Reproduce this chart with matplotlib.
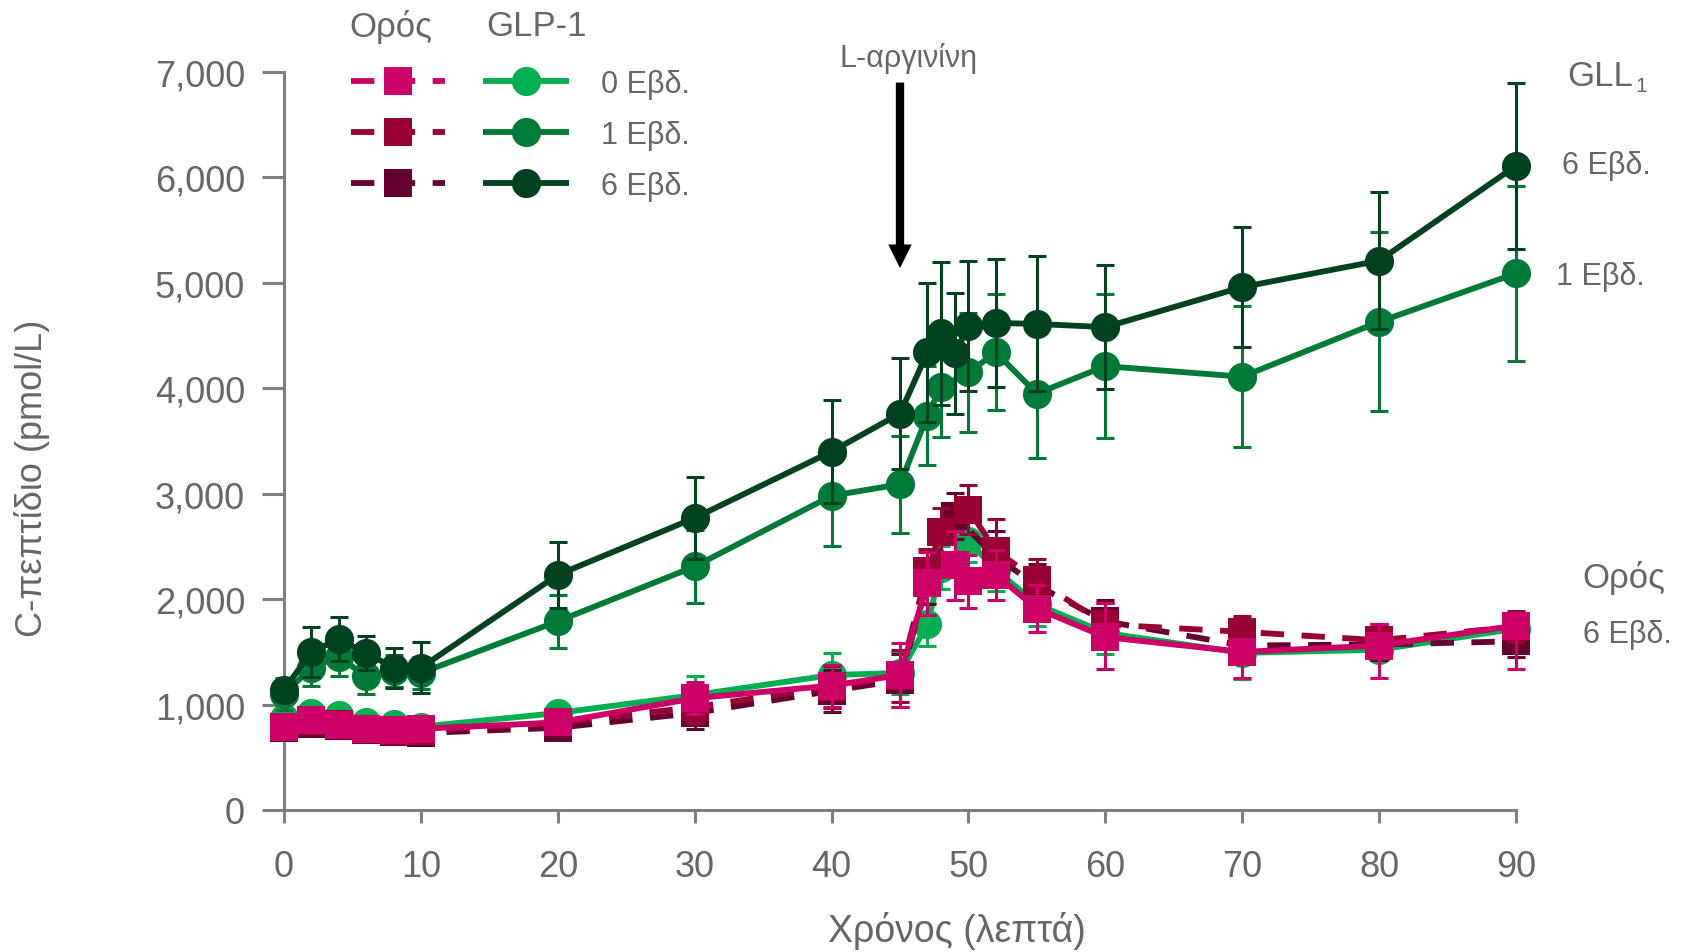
import matplotlib
matplotlib.use("Agg")
import matplotlib.pyplot as plt
from matplotlib.lines import Line2D

plt.rcParams['font.family'] = ['Liberation Sans', 'DejaVu Sans']

W, H, DPI = 1686, 953, 100

# ---- data: C-peptide (pmol/L) vs time (min) ----
t_glp0 = [0, 2, 4, 6, 8, 10, 20, 30, 40, 45, 47, 48, 50, 52, 55, 60, 70, 80, 90]
y_glp0 = [870, 920, 900, 830, 820, 790, 920, 1090, 1280, 1300, 1760, 2300, 2550, 2280, 1950, 1680, 1490, 1520, 1720]
e_glp0 = [60, 60, 60, 60, 60, 60, 80, 180, 210, 200, 200, 200, 200, 200, 200, 200, 250, 100, 80]

t_glp1 = [0, 2, 4, 6, 8, 10, 20, 30, 40, 45, 47, 48, 50, 52, 55, 60, 70, 80, 90]
y_glp1 = [1100, 1350, 1450, 1270, 1320, 1300, 1790, 2310, 2980, 3090, 3740, 4010, 4150, 4340, 3950, 4210, 4110, 4630, 5090]
e_glp1 = [150, 170, 180, 170, 150, 150, 250, 350, 480, 460, 470, 470, 560, 550, 610, 680, 670, 850, 830]

t_glp6 = [0, 2, 4, 6, 8, 10, 20, 30, 40, 45, 47, 48, 49, 50, 52, 55, 60, 70, 80, 90]
y_glp6 = [1140, 1500, 1620, 1490, 1350, 1350, 2230, 2770, 3400, 3760, 4340, 4520, 4330, 4590, 4620, 4610, 4580, 4960, 5210, 6110]
e_glp6 = [0, 240, 210, 160, 190, 240, 310, 390, 490, 530, 660, 680, 570, 620, 610, 640, 590, 570, 650, 790]

t_ser0 = [0, 2, 4, 6, 8, 10, 20, 30, 40, 45, 47, 49, 50, 52, 55, 60, 70, 80, 90]
y_ser0 = [790, 850, 810, 770, 760, 770, 830, 1060, 1180, 1280, 2150, 2320, 2170, 2230, 1910, 1640, 1500, 1560, 1750]
e_ser0_lo = [80, 80, 80, 80, 80, 80, 100, 150, 200, 300, 300, 330, 250, 240, 220, 300, 250, 310, 410]
e_ser0_hi = [80, 80, 80, 80, 80, 80, 100, 150, 200, 300, 300, 330, 250, 240, 220, 320, 120, 200, 0]

t_ser1 = [0, 2, 4, 6, 8, 10, 20, 30, 40, 45, 47, 48, 50, 52, 55, 60, 70, 80, 90]
y_ser1 = [785, 840, 815, 770, 750, 750, 830, 975, 1170, 1270, 2270, 2640, 2850, 2460, 2180, 1760, 1690, 1610, 1740]
e_ser1 = [80, 80, 80, 80, 80, 80, 100, 150, 200, 250, 210, 220, 230, 300, 200, 200, 150, 150, 150]

t_ser6 = [0, 2, 4, 6, 8, 10, 20, 30, 40, 45, 47, 49, 52, 55, 60, 70, 80, 90]
y_ser6 = [780, 820, 800, 760, 740, 730, 780, 920, 1130, 1230, 2150, 2790, 2400, 2130, 1790, 1560, 1570, 1600]
e_ser6 = [80, 80, 80, 80, 80, 80, 100, 150, 200, 250, 200, 220, 250, 200, 200, 150, 150, 150]

week_labels = ['0 Εβδ.', '1 Εβδ.', '6 Εβδ.']
x_ticks = [0, 10, 20, 30, 40, 50, 60, 70, 80, 90]
y_ticks = [0, 1000, 2000, 3000, 4000, 5000, 6000, 7000]

C_GLP = ['#00B050', '#007A37', '#00421E']
C_SER = ['#CC0066', '#990033', '#660033']
GREY = '#666666'
AXC = '#7F7F7F'
DASH = (0, (4, 3))

fig = plt.figure(figsize=(W / DPI, H / DPI), dpi=DPI)
ax = fig.add_axes([284 / W, 1 - 811 / H, (1516 - 284) / W, (811 - 73) / H])
ax.set_xlim(0, 90)
ax.set_ylim(0, 7000)


def series(t, y, e, color, marker, ls, z, ms):
    eb = ax.errorbar(t, y, yerr=e, fmt='none', ecolor=color, elinewidth=2.2,
                     capsize=6.5, capthick=2.2, zorder=z - 0.5)
    for art in eb.lines[1] + eb.lines[2]:
        art.set_clip_on(False)
    ax.plot(t, y, color=color, lw=4.2, ls=ls, marker=marker, ms=ms, mew=0,
            zorder=z, clip_on=False, solid_capstyle='butt', dash_capstyle='butt')


series(t_glp0, y_glp0, e_glp0, C_GLP[0], 'o', '-', 3, 21)
series(t_glp1, y_glp1, e_glp1, C_GLP[1], 'o', '-', 4, 21)
series(t_glp6, y_glp6, e_glp6, C_GLP[2], 'o', '-', 5, 21)
series(t_ser6, y_ser6, e_ser6, C_SER[2], 's', DASH, 6, 20)
series(t_ser1, y_ser1, e_ser1, C_SER[1], 's', DASH, 7, 20)
series(t_ser0, y_ser0, [e_ser0_lo, e_ser0_hi], C_SER[0], 's', '-', 8, 20)

# axes styling
for side in ('top', 'right'):
    ax.spines[side].set_visible(False)
for side in ('left', 'bottom'):
    ax.spines[side].set_color(AXC)
    ax.spines[side].set_linewidth(2.2)
ax.set_xticks(x_ticks)
ax.set_yticks(y_ticks)
ax.set_yticklabels([f'{v:,}' for v in y_ticks])
ax.tick_params(axis='y', direction='out', length=16, width=2.2, color=AXC,
               labelsize=26, labelcolor=GREY, pad=12)
ax.tick_params(axis='x', direction='out', length=9, width=2.2, color=AXC,
               labelsize=26, labelcolor=GREY, pad=19)


def fx(x):
    return x / W


def fy(y):
    return 1 - y / H


# axis titles
fig.text(fx(32), fy(478), 'C-πεπτίδιο (pmol/L)', fontsize=26, color=GREY,
         rotation=90, ha='center', va='center')
fig.text(fx(957), fy(931), 'Χρόνος (λεπτά)', fontsize=27, color=GREY,
         ha='center', va='center')

# L-arginine arrow
ax.annotate('', xy=(45, 5140), xytext=(45, 6900),
            arrowprops=dict(arrowstyle='simple,head_length=1.7,head_width=1.7,tail_width=0.6',
                            mutation_scale=10, fc='black', ec='none',
                            shrinkA=0, shrinkB=0))
fig.text(fx(909), fy(58), 'L-αργινίνη', fontsize=22, color=GREY, ha='center', va='center')

# legend drawn at figure pixel positions
fig.text(fx(391), fy(27), 'Ορός', fontsize=25, color=GREY, ha='center', va='center')
fig.text(fx(536), fy(27), 'GLP-1', fontsize=25, color=GREY, ha='center', va='center')
rows = [82, 133, 184]
for i, yy in enumerate(rows):
    fig.add_artist(Line2D([fx(351), fx(445)], [fy(yy)] * 2, transform=fig.transFigure,
                          color=C_SER[i], lw=4.2, ls=DASH, dash_capstyle='butt'))
    fig.add_artist(Line2D([fx(398)], [fy(yy)], transform=fig.transFigure,
                          color=C_SER[i], marker='s', ms=20, mew=0, ls='none'))
    fig.add_artist(Line2D([fx(483), fx(569)], [fy(yy)] * 2, transform=fig.transFigure,
                          color=C_GLP[i], lw=4.2, solid_capstyle='butt'))
    fig.add_artist(Line2D([fx(526)], [fy(yy)], transform=fig.transFigure,
                          color=C_GLP[i], marker='o', ms=21, mew=0, ls='none'))
    fig.text(fx(601), fy(yy + 3), week_labels[i], fontsize=22, color=GREY,
             ha='left', va='center')

# right-hand series labels
fig.text(fx(1567), fy(76), 'GLL', fontsize=25, color=GREY, ha='left', va='center')
fig.text(fx(1635), fy(87), '1', fontsize=15, color=GREY, ha='left', va='center')
fig.text(fx(1562), fy(166), week_labels[2], fontsize=22, color=GREY, ha='left', va='center')
fig.text(fx(1556), fy(277), week_labels[1], fontsize=22, color=GREY, ha='left', va='center')
fig.text(fx(1624), fy(578), 'Ορός', fontsize=25, color=GREY, ha='center', va='center')
fig.text(fx(1583), fy(635), week_labels[2], fontsize=22, color=GREY, ha='left', va='center')

fig.savefig('out.png', dpi=DPI)
